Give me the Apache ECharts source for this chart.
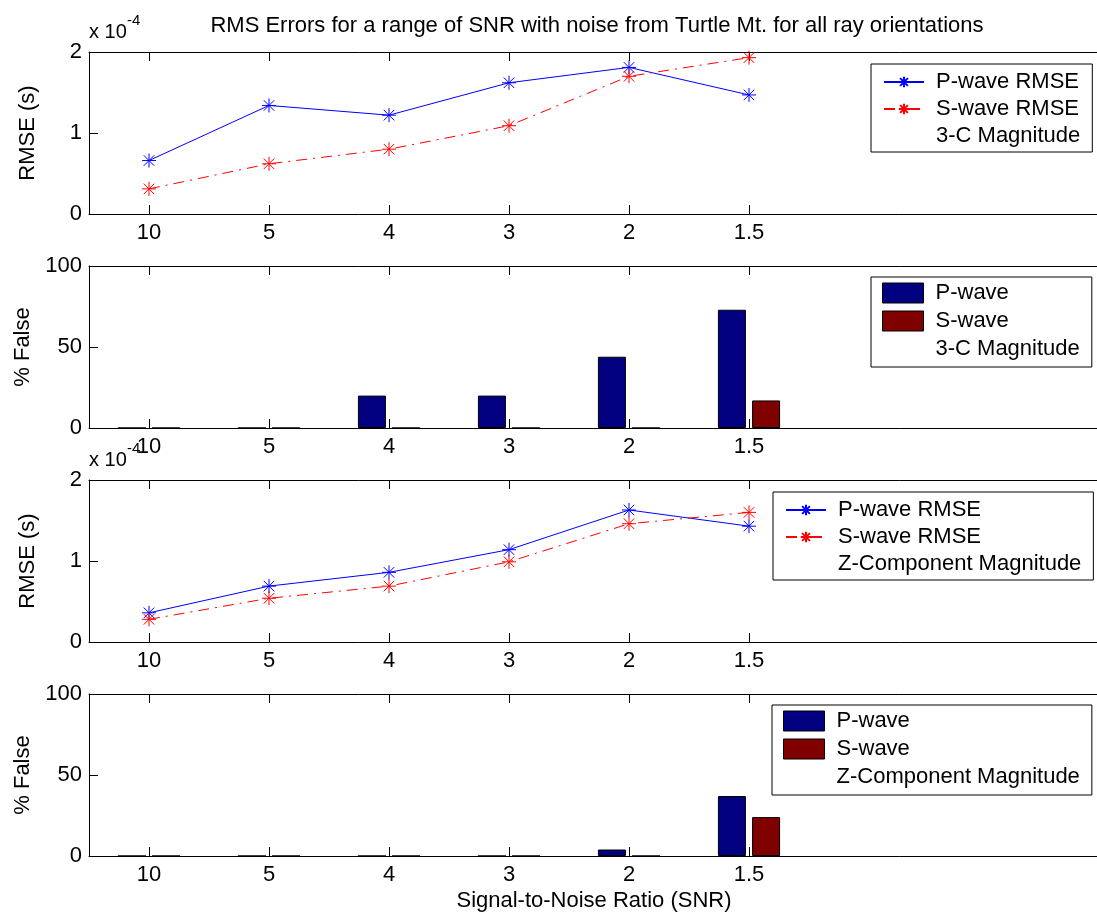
<!DOCTYPE html>
<html>
<head>
<meta charset="utf-8">
<script src="https://cdn.jsdelivr.net/npm/echarts@6/dist/echarts.min.js"></script>
<style>
html,body{margin:0;padding:0;background:#fff;overflow:hidden;width:1097px;height:914px;}
#chart{width:1170px;height:914px;}
</style>
</head>
<body>
<div id="chart"></div>
<script>
// ---- data (RMSE values in units of 1e-4 s, % False in percent) ----
const snrLabels = ['10', '5', '4', '3', '2', '1.5'];
const rms3cP = [0.66, 1.34, 1.22, 1.62, 1.81, 1.47];
const rms3cS = [0.31, 0.62, 0.80, 1.09, 1.70, 1.93];
const false3cP = [0, 0, 20, 20, 44, 73];
const false3cS = [0, 0, 0, 0, 0, 17];
const rmsZP = [0.36, 0.69, 0.86, 1.14, 1.63, 1.43];
const rmsZS = [0.28, 0.54, 0.69, 0.99, 1.46, 1.60];
const falseZP = [0, 0, 0, 0, 4, 37];
const falseZS = [0, 0, 0, 0, 0, 24];
const rmsTicks = [0, 1, 2];
const falseTicks = [0, 50, 100];

const FONT = '"Liberation Sans", Arial, Helvetica, sans-serif';
const FS = 22;
const axisCats = snrLabels.concat(['', '', '']);
const nReal = snrLabels.length;
const STAR = 'path://M0,-10L0,10M-10,0L10,0M-7.5,-7.5L7.5,7.5M-7.5,7.5L7.5,-7.5';

const tops = [52, 266, 480, 694];
const H = 162;
const grids = tops.map(t => ({left: 89, top: t, width: 1080, height: H}));

const xAxes = [];
const yAxes = [];
tops.forEach((t, i) => {
  const tick = {show: true, inside: true, length: 9, alignWithLabel: true,
    interval: (idx) => idx < nReal, lineStyle: {color: '#000', width: 1}};
  xAxes.push({type: 'category', gridIndex: i, position: 'bottom', data: axisCats,
    boundaryGap: true,
    axisLine: {lineStyle: {color: '#000', width: 1}}, axisTick: tick,
    axisLabel: {color: '#000', fontFamily: FONT, fontSize: FS, margin: 8, interval: 0},
    splitLine: {show: false}});
  xAxes.push({type: 'category', gridIndex: i, position: 'top', data: axisCats,
    boundaryGap: true,
    axisLine: {lineStyle: {color: '#000', width: 1}}, axisTick: tick,
    axisLabel: {show: false}, splitLine: {show: false}});
  const isRms = (i % 2 === 0);
  const ticks = isRms ? rmsTicks : falseTicks;
  yAxes.push({type: 'value', gridIndex: i, min: ticks[0], max: ticks[ticks.length - 1],
    interval: ticks[1] - ticks[0],
    name: isRms ? 'RMSE (s)' : '% False', nameLocation: 'middle', nameGap: 50,
    nameTextStyle: {color: '#000', fontFamily: FONT, fontSize: FS},
    axisLine: {show: true, lineStyle: {color: '#000', width: 1}},
    axisTick: {show: true, inside: true, length: 9, lineStyle: {color: '#000'}},
    axisLabel: {color: '#000', fontFamily: FONT, fontSize: FS, margin: 7},
    splitLine: {show: false}});
});

function lineSeries(name, data, gi, color, dashed) {
  return {type: 'line', name: name, data: data, xAxisIndex: gi * 2, yAxisIndex: gi,
    symbol: STAR, symbolSize: 14, showSymbol: true,
    itemStyle: {color: color, borderColor: color, borderWidth: 1},
    lineStyle: {color: color, width: 1, type: dashed ? [11, 6, 2, 6] : 'solid'},
    animation: false, z: 3};
}
function barSeries(name, data, gi, color) {
  return {type: 'bar', name: name, data: data, xAxisIndex: gi * 2, yAxisIndex: gi,
    barWidth: 28, barGap: '22%',
    itemStyle: {color: color, borderColor: '#000', borderWidth: 1},
    animation: false};
}
function dummy(name, gi) {
  return {type: 'line', name: name, data: [], xAxisIndex: gi * 2, yAxisIndex: gi,
    symbol: 'none', lineStyle: {opacity: 0}, itemStyle: {opacity: 0}};
}

const series = [
  lineSeries('P-wave RMSE', rms3cP, 0, '#0000ff', false),
  lineSeries('S-wave RMSE', rms3cS, 0, '#ff0000', true),
  dummy('3-C Magnitude', 0),
  barSeries('P-wave', false3cP, 1, '#000080'),
  barSeries('S-wave', false3cS, 1, '#800000'),
  lineSeries('P-wave RMSE', rmsZP, 2, '#0000ff', false),
  lineSeries('S-wave RMSE', rmsZS, 2, '#ff0000', true),
  dummy('Z-Component Magnitude', 2),
  barSeries('P-wave', falseZP, 3, '#000080'),
  barSeries('S-wave', falseZS, 3, '#800000')
];

const legTxt = {color: '#000', fontFamily: FONT, fontSize: FS, lineHeight: 22, padding: [0, 0, 0, 7]};
const hidden = {icon: 'rect', itemStyle: {color: 'rgba(0,0,0,0)', borderWidth: 0, opacity: 0}, lineStyle: {opacity: 0}};
function lineLegend(left, top, third) {
  return {orient: 'vertical', left: left, top: top, padding: [7, 12, 5, 12],
    itemWidth: 40, itemHeight: 13, itemGap: 5, selectedMode: false,
    borderColor: '#000', borderWidth: 1, borderRadius: 0, backgroundColor: '#fff',
    textStyle: legTxt,
    data: ['P-wave RMSE', 'S-wave RMSE', Object.assign({name: third}, hidden)]};
}
function barLegend(left, top, third) {
  return {orient: 'vertical', left: left, top: top, padding: [5, 12, 7, 11],
    itemWidth: 41, itemHeight: 20, itemGap: 6, selectedMode: false,
    borderColor: '#000', borderWidth: 1, borderRadius: 0, backgroundColor: '#fff',
    textStyle: legTxt,
    data: [{name: 'P-wave', icon: 'rect', itemStyle: {borderColor: '#000', borderWidth: 1}},
           {name: 'S-wave', icon: 'rect', itemStyle: {borderColor: '#000', borderWidth: 1}},
           Object.assign({name: third}, hidden)]};
}

const option = {
  backgroundColor: '#fff',
  animation: false,
  grid: grids,
  xAxis: xAxes,
  yAxis: yAxes,
  series: series,
  legend: [
    lineLegend(871, 64, '3-C Magnitude'),
    barLegend(871, 277, '3-C Magnitude'),
    lineLegend(773, 492, 'Z-Component Magnitude'),
    barLegend(772, 705, 'Z-Component Magnitude')
  ],
  graphic: [
    {type: 'text', x: 597, y: 26, style: {text: 'RMS Errors for a range of SNR with noise from Turtle Mt. for all ray orientations',
      textAlign: 'center', textVerticalAlign: 'middle', fill: '#000', font: FS + 'px ' + FONT}},
    {type: 'text', x: 89, y: 32, style: {text: 'x 10', textVerticalAlign: 'middle', fill: '#000', font: '20px ' + FONT}},
    {type: 'text', x: 127, y: 21, style: {text: '-4', textVerticalAlign: 'middle', fill: '#000', font: '15px ' + FONT}},
    {type: 'text', x: 89, y: 460, style: {text: 'x 10', textVerticalAlign: 'middle', fill: '#000', font: '20px ' + FONT}},
    {type: 'text', x: 127, y: 449, style: {text: '-4', textVerticalAlign: 'middle', fill: '#000', font: '15px ' + FONT}},
    {type: 'text', x: 594, y: 901, style: {text: 'Signal-to-Noise Ratio (SNR)', textAlign: 'center', textVerticalAlign: 'middle', fill: '#000', font: FS + 'px ' + FONT}}
  ]
};

const chart = echarts.init(document.getElementById('chart'), null, {renderer: 'canvas'});
chart.setOption(option);
</script>
</body>
</html>
